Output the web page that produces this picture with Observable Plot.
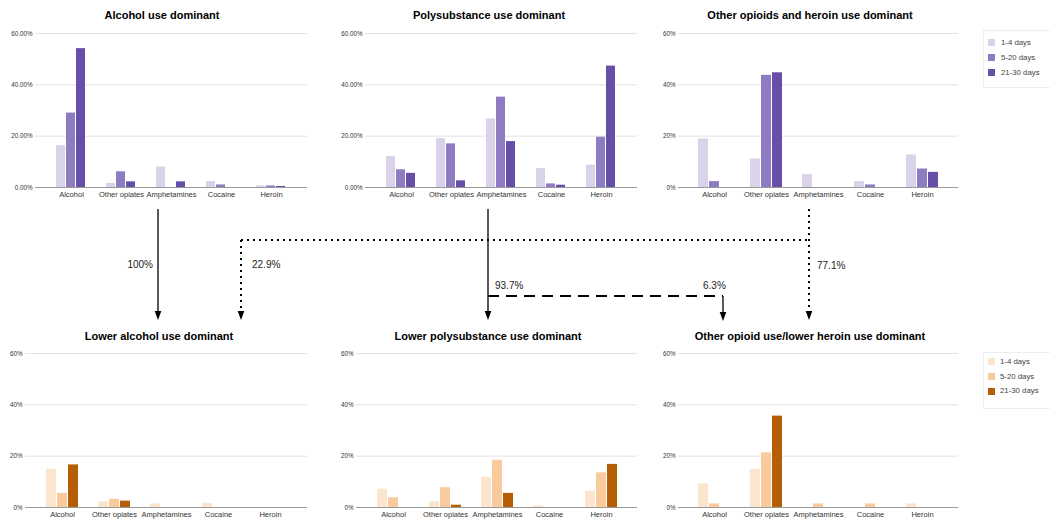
<!DOCTYPE html>
<html>
<head>
<meta charset="utf-8">
<script src="https://cdn.jsdelivr.net/npm/d3@7"></script>
<script src="https://cdn.jsdelivr.net/npm/@observablehq/plot@0.6"></script>
<style>
  html, body { margin: 0; padding: 0; background: #fff; }
  #root { position: relative; width: 1050px; height: 530px; overflow: hidden; font-family: "Liberation Sans", Arial, sans-serif; }
  .panel { position: absolute; width: 330px; height: 187px; }
  .panel > svg { position: absolute; left: 0; top: 0; }
  .panel text { fill: #333; }
  .title { position: absolute; width: 320px; text-align: center; font-weight: bold; font-size: 11px; line-height: 13px; color: #000; white-space: nowrap; }
  .legend { position: absolute; border: 1px solid #eeeeee; background: #fff; }
  .litem { position: absolute; font-size: 7.8px; color: #444; white-space: nowrap; }
  .sw { position: absolute; width: 7px; height: 7px; }
  #arrows { position: absolute; left: 0; top: 0; pointer-events: none; }
</style>
</head>
<body>
<div id="root"></div>
<script>
// ---------- data ----------
const categories = ["Alcohol", "Other opiates", "Amphetamines", "Cocaine", "Heroin"];
const seriesNames = ["1-4 days", "5-20 days", "21-30 days"];
const yTicks = [0, 20, 40, 60];
const purpleColors = ["#d9d2e9", "#8e7cc3", "#674ea7"];
const orangeColors = ["#fce5cd", "#f9cb9c", "#b45f06"];

// Alcohol use dominant
const alcoholDom_1_4   = [16.3, 1.6, 8.0, 2.3, 0.6];
const alcoholDom_5_20  = [29.0, 6.1, 0, 1.0, 0.6];
const alcoholDom_21_30 = [54.1, 2.2, 2.2, 0, 0.4];
// Polysubstance use dominant
const polyDom_1_4   = [12.1, 19.0, 26.7, 7.4, 8.7];
const polyDom_5_20  = [6.9, 17.0, 35.2, 1.4, 19.6];
const polyDom_21_30 = [5.5, 2.6, 17.9, 0.9, 47.3];
// Other opioids and heroin use dominant
const opioidDom_1_4   = [18.9, 11.1, 5.0, 2.3, 12.7];
const opioidDom_5_20  = [2.3, 43.7, 0, 1.0, 7.2];
const opioidDom_21_30 = [0, 44.7, 0, 0, 5.9];
// Lower alcohol use dominant
const lowAlcohol_1_4   = [14.9, 2.2, 1.4, 1.6, 0];
const lowAlcohol_5_20  = [5.5, 3.2, 0, 0, 0];
const lowAlcohol_21_30 = [16.6, 2.5, 0, 0, 0];
// Lower polysubstance use dominant
const lowPoly_1_4   = [7.1, 2.2, 11.8, 0.6, 6.4];
const lowPoly_5_20  = [3.8, 7.7, 18.4, 0, 13.5];
const lowPoly_21_30 = [0, 0.9, 5.5, 0, 16.8];
// Other opioid use/lower heroin use dominant
const lowHeroin_1_4   = [9.2, 14.8, 0, 0, 1.4];
const lowHeroin_5_20  = [1.4, 21.3, 1.4, 1.4, 0];
const lowHeroin_21_30 = [0, 35.6, 0, 0, 0];

// transitions
const transitionLabels = ["100%", "22.9%", "93.7%", "6.3%", "77.1%"];

// ---------- helpers ----------
function rowsOf(a, b, c) {
  const out = [];
  [a, b, c].forEach((arr, si) => arr.forEach((v, ci) => out.push({cat: categories[ci], series: seriesNames[si], value: v})));
  return out;
}
const fmt2 = d => d.toFixed(2) + "%";
const fmt0 = d => d + "%";

const panels = [
  {title: "Alcohol use dominant", data: rowsOf(alcoholDom_1_4, alcoholDom_5_20, alcoholDom_21_30), colors: purpleColors, fmt: fmt2,
   left: 0, top: 20, titleCx: 162, titleCy: 15, ml: 35, mr: 23, po: 0.167},
  {title: "Polysubstance use dominant", data: rowsOf(polyDom_1_4, polyDom_5_20, polyDom_21_30), colors: purpleColors, fmt: fmt2,
   left: 330, top: 20, titleCx: 489, titleCy: 15, ml: 35, mr: 23, po: 0.19},
  {title: "Other opioids and heroin use dominant", data: rowsOf(opioidDom_1_4, opioidDom_5_20, opioidDom_21_30), colors: purpleColors, fmt: fmt0,
   left: 650, top: 20, titleCx: 810, titleCy: 15, ml: 28, mr: 22, po: 0.167},
  {title: "Lower alcohol use dominant", data: rowsOf(lowAlcohol_1_4, lowAlcohol_5_20, lowAlcohol_21_30), colors: orangeColors, fmt: fmt0,
   left: 0, top: 340, titleCx: 159, titleCy: 336, ml: 25, mr: 23, po: 0.186},
  {title: "Lower polysubstance use dominant", data: rowsOf(lowPoly_1_4, lowPoly_5_20, lowPoly_21_30), colors: orangeColors, fmt: fmt0,
   left: 330, top: 340, titleCx: 488, titleCy: 336, ml: 26, mr: 23, po: 0.18},
  {title: "Other opioid use/lower heroin use dominant", data: rowsOf(lowHeroin_1_4, lowHeroin_5_20, lowHeroin_21_30), colors: orangeColors, fmt: fmt0,
   left: 650, top: 340, titleCx: 810, titleCy: 336, ml: 28, mr: 22, po: 0.167}
];

const root = document.getElementById("root");
const FONT = '"Liberation Sans", Arial, sans-serif';

panels.forEach(p => {
  const t = document.createElement("div");
  t.className = "title";
  t.textContent = p.title;
  t.style.left = (p.titleCx - 160) + "px";
  t.style.top = (p.titleCy - 6.5) + "px";
  root.appendChild(t);

  const common = {
    width: 330,
    height: 187,
    marginTop: 13,
    marginBottom: 20,
    marginLeft: p.ml,
    marginRight: p.mr,
    style: {fontFamily: FONT, fontSize: "7.5px", color: "#333", background: "transparent"},
    y: {domain: [0, 60], axis: null}
  };

  // underlay: gridlines, y tick labels, baseline (span the whole chart area)
  const grid = Plot.plot({
    ...common,
    x: {axis: null},
    marks: [
      Plot.ruleY(yTicks.slice(1), {stroke: "#e2e2e2", strokeWidth: 1}),
      Plot.text(yTicks, {y: d => d, text: p.fmt, frameAnchor: "left", textAnchor: "end", dx: -3, fontSize: 6.3, fill: "#555"}),
      Plot.ruleY([0], {stroke: "#9a9a9a", strokeWidth: 1})
    ]
  });

  // overlay: grouped bars, faceted by category
  const bars = Plot.plot({
    ...common,
    facet: {data: p.data, x: "cat"},
    fx: {domain: categories, paddingInner: 0, paddingOuter: p.po, axis: "bottom", tickSize: 0, tickPadding: 4, label: null},
    x: {domain: seriesNames, axis: null, paddingInner: 0.06, paddingOuter: 0.874},
    color: {domain: seriesNames, range: p.colors},
    marks: [
      Plot.barY(p.data, {x: "series", y: "value", fill: "series"})
    ]
  });

  const wrap = document.createElement("div");
  wrap.className = "panel";
  wrap.style.left = p.left + "px";
  wrap.style.top = p.top + "px";
  wrap.appendChild(grid);
  wrap.appendChild(bars);
  root.appendChild(wrap);
});

// ---------- legends ----------
function addLegend(colors, box, items) {
  const lg = document.createElement("div");
  lg.className = "legend";
  lg.style.left = box.x + "px"; lg.style.top = box.y + "px";
  lg.style.width = box.w + "px"; lg.style.height = box.h + "px";
  root.appendChild(lg);
  seriesNames.forEach((s, i) => {
    const sw = document.createElement("div");
    sw.className = "sw";
    sw.style.background = colors[i];
    sw.style.left = items.sx + "px";
    sw.style.top = (items.ys[i] - 3.5) + "px";
    root.appendChild(sw);
    const tx = document.createElement("div");
    tx.className = "litem";
    tx.textContent = s;
    tx.style.left = items.tx + "px";
    tx.style.top = (items.ys[i] - 5) + "px";
    tx.style.lineHeight = "10px";
    root.appendChild(tx);
  });
}
addLegend(purpleColors, {x: 983, y: 30, w: 80, h: 56}, {sx: 988, tx: 1001, ys: [42.5, 57.8, 72.8]});
addLegend(orangeColors, {x: 983, y: 352, w: 80, h: 55}, {sx: 988, tx: 1000, ys: [361.8, 376.8, 391.2]});

// ---------- transition arrows ----------
const svg = d3.select(root).append("svg").attr("id", "arrows").attr("width", 1050).attr("height", 530);
function line(x1, y1, x2, y2, dash, sw) {
  svg.append("line").attr("x1", x1).attr("y1", y1).attr("x2", x2).attr("y2", y2)
    .attr("stroke", "#000").attr("stroke-width", sw || 1.3).attr("stroke-dasharray", dash || null);
}
function head(x, y) {
  svg.append("path").attr("d", `M${x - 3.3},${y - 9}L${x + 3.3},${y - 9}L${x},${y}Z`).attr("fill", "#000");
}
function label(x, y, t, anchor) {
  svg.append("text").attr("x", x).attr("y", y).attr("dy", "0.35em").attr("text-anchor", anchor || "start")
    .attr("font-family", FONT).attr("font-size", 10).attr("fill", "#222").text(t);
}
// alcohol -> lower alcohol (solid)
line(158, 209, 158, 312); head(158, 320);
// opioid/heroin -> lower alcohol and -> lower heroin (dotted)
line(809, 209, 809, 312, "2 4", 2); head(809, 320);
line(241, 240, 809, 240, "2 4", 2);
line(241, 240, 241, 312, "2 4", 2); head(241, 320);
// poly -> lower poly (solid), poly -> lower heroin (dashed)
line(488, 209, 488, 312); head(488, 320);
line(488, 296, 723, 296, "11 7", 2);
line(723, 296, 723, 313, null, 1.3); head(723, 321);

label(153, 264, transitionLabels[0], "end");
label(252, 264, transitionLabels[1]);
label(495, 285, transitionLabels[2]);
label(703, 285, transitionLabels[3]);
label(817, 265, transitionLabels[4]);
</script>
</body>
</html>
